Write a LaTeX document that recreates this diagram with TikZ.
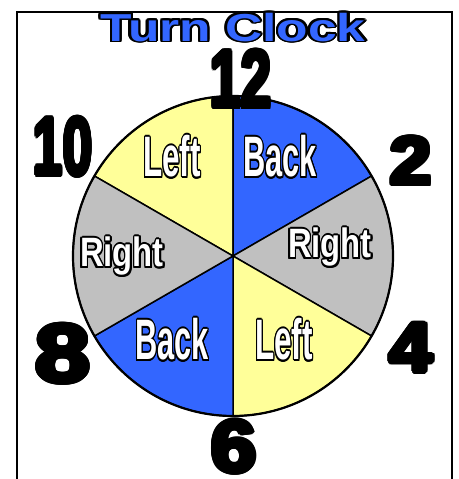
\documentclass[tikz,border=0pt]{standalone}
\usepackage{fontspec}
\setmainfont{Liberation Sans}
\usepackage[copies]{contour}
\usetikzlibrary{positioning}

\definecolor{leftyellow}{HTML}{FFFF99}
\definecolor{backblue}{HTML}{3366FF}
\definecolor{rightgray}{HTML}{C0C0C0}

\newcommand{\outlined}[1]{{\color{white}\contourlength{2pt}\contour{black}{#1}}}
\newcommand{\heavy}[1]{{\contourlength{2.4pt}\contour{black}{#1}}}
\newcommand{\titletext}[1]{{\color{backblue}\contourlength{1.8pt}\contour{black}{#1}}}

\begin{document}
\begin{tikzpicture}[x=1pt,y=1pt,
  sector/.style={draw=black, line width=1.5pt, line join=round},
  rim/.style={draw=black, line width=2.2pt},
  frame/.style={line width=2pt},
  turn/.style={inner sep=0pt, anchor=base, font=\bfseries\fontsize{57}{57}\selectfont},
  turnsmall/.style={turn, font=\bfseries\fontsize{41}{41}\selectfont},
  hour/.style={inner sep=0pt, font=\bfseries\fontsize{82}{82}\selectfont},
  heading/.style={inner sep=0pt, font=\bfseries\fontsize{39}{39}\selectfont}
]
\useasboundingbox (0,0) rectangle (458,479);
\draw[frame] (17,-5) -- (17,467) -- (452,467) -- (452,-5);

% clock face
\coordinate (c) at (233,223);
\foreach \a/\col in {90/leftyellow,30/backblue,-30/rightgray,-90/leftyellow,210/backblue,150/rightgray}
  \filldraw[sector, fill=\col] (c) -- ++(\a:160) arc[start angle=\a, delta angle=60, radius=160] -- cycle;
\draw[rim] (c) circle[radius=160];

% turn labels
\node[turn] (leftup) at (172,302) {\scalebox{0.55}[1]{\outlined{Left}}};
\node[turn] (backup) at (280,302) {\scalebox{0.54}[1]{\outlined{Back}}};
\node[turnsmall] (rightw) at (122,212) {\scalebox{0.8}[1]{\outlined{Right}}};
\node[turnsmall] (righte) at (330,221) {\scalebox{0.8}[1]{\outlined{Right}}};
\node[turn] (backlow) at (172,119) {\scalebox{0.54}[1]{\outlined{Back}}};
\node[turn] (leftlow) at (284,119) {\scalebox{0.55}[1]{\outlined{Left}}};

% hours
\node[hour] (h12) at (241,399) {\scalebox{0.67}[1]{\heavy{12}}};
\node[hour] (h10) at (63,331) {\scalebox{0.65}[1]{\heavy{10}}};
\node[hour, font=\bfseries\fontsize{68}{68}\selectfont] (h2) at (411,317) {\scalebox{1.1}[1]{\heavy{2}}};
\node[hour, font=\bfseries\fontsize{70}{70}\selectfont] (h4) at (411,130) {\scalebox{1.1}[1]{\heavy{4}}};
\node[hour] (h8) at (63,124) {\scalebox{1.2}[1]{\heavy{8}}};
\node[hour, font=\bfseries\fontsize{74}{74}\selectfont] (h6) at (234,31) {\scalebox{1.1}[1]{\heavy{6}}};

% title
\node[heading] (title) at (233,451) {\scalebox{1.32}[1]{\titletext{Turn Clock}}};
\end{tikzpicture}
\end{document}
